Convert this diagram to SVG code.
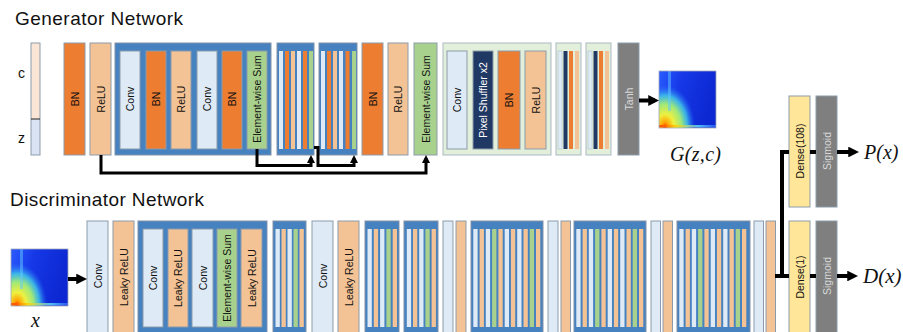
<svg xmlns="http://www.w3.org/2000/svg" xmlns:xlink="http://www.w3.org/1999/xlink" width="903" height="332" viewBox="0 0 903 332">
<style>
.bx{stroke:#8c9bab;stroke-width:1}
.conv{fill:#deebf7}
.bn{fill:#ed7d31}
.relu{fill:#f4c395}
.sum{fill:#a9d18e}
.blk{fill:#4681c0;stroke:#8193a8;stroke-width:1}
.ps{fill:#203864}
.psb{fill:#e2efda;stroke:#a9b8c4;stroke-width:1}
.gray{fill:#7f7f7f}
.dense{fill:#ffe699}
.t{font-family:"Liberation Sans",Arial,sans-serif;font-size:10.5px;fill:#111;text-anchor:middle;dominant-baseline:central}
.tl{fill:#d9d9d9}
.tw{fill:#fff}
.ti{font-family:"Liberation Serif","Times New Roman",serif;font-style:italic;fill:#111}
.title{font-family:"Liberation Sans",Arial,sans-serif;font-size:19px;fill:#111}
.lab{font-family:"Liberation Sans",Arial,sans-serif;font-size:14px;fill:#111;text-anchor:middle}
.cn{fill:none;stroke:#000;stroke-width:3}
.cn4{fill:none;stroke:#000;stroke-width:4}
</style>
<defs>
<marker id="ah" viewBox="0 0 10 10" refX="6" refY="5" markerWidth="2.7" markerHeight="2.7" orient="auto" markerUnits="strokeWidth"><path d="M0,0 L10,5 L0,10 z" fill="#000"/></marker>
<radialGradient id="heat" gradientUnits="userSpaceOnUse" cx="0" cy="0" r="1" gradientTransform="translate(6 56) scale(30 42)">
<stop offset="0" stop-color="#ff1a00"/>
<stop offset="0.1" stop-color="#ffa000"/>
<stop offset="0.3" stop-color="#eef040"/>
<stop offset="0.55" stop-color="#9ee87a"/>
<stop offset="0.75" stop-color="#40c8e8" stop-opacity="0.85"/>
<stop offset="1" stop-color="#2a70ff" stop-opacity="0"/>
</radialGradient>
<linearGradient id="bot" x1="0" x2="1" y1="0" y2="0">
<stop offset="0" stop-color="#ff3000"/>
<stop offset="0.3" stop-color="#ffd000"/>
<stop offset="0.7" stop-color="#60e0ff"/>
<stop offset="1" stop-color="#3060ff"/>
</linearGradient>
<linearGradient id="bg" x1="0" x2="1" y1="0" y2="0.3">
<stop offset="0" stop-color="#2a5cff"/>
<stop offset="0.4" stop-color="#1638e6"/>
<stop offset="1" stop-color="#0c28d2"/>
</linearGradient>
<g id="spec">
<rect x="0" y="0" width="57" height="57" fill="url(#bg)"/>
<rect x="0" y="0" width="57" height="57" fill="url(#heat)"/>
<rect x="9" y="0" width="3" height="40" fill="#60c8ff" opacity="0.5"/>
<rect x="0" y="54" width="57" height="2.5" fill="url(#bot)" opacity="0.8"/>
<rect x="0" y="0" width="57" height="57" fill="none" stroke="#a0a8b8" stroke-width="0.8"/>
</g>
</defs>
<rect width="903" height="332" fill="#fff"/>

<text class="title" x="15" y="25" textLength="168">Generator Network</text>
<text class="title" x="10" y="206" textLength="194">Discriminator Network</text>

<!-- Generator -->
<g id="g-input">
<rect x="31" y="43" width="9" height="76" fill="#fbe5d6"/>
<rect x="31" y="119" width="9" height="36" fill="#dae3f3"/>
<rect x="31" y="43" width="9" height="112" fill="none" class="bx"/>
<line x1="31" y1="119" x2="40" y2="119" stroke="#222" stroke-width="1"/>
<text class="lab" x="21.5" y="78">c</text>
<text class="lab" x="21.5" y="143">z</text>
</g>
<g id="g-bn1"><rect class="bx bn" x="64" y="43" width="21" height="112"/><text class="t" transform="translate(74.5 99) rotate(-90)">BN</text></g>
<g id="g-relu1"><rect class="bx relu" x="90" y="43" width="21" height="112"/><text class="t" transform="translate(100.5 99) rotate(-90)">ReLU</text></g>
<g id="g-res1">
<rect class="blk" x="115" y="43" width="156" height="112"/>
<rect class="bx conv" x="120" y="51" width="20" height="98"/><text class="t" transform="translate(130 99) rotate(-90)">Conv</text>
<rect class="bx bn" x="146" y="51" width="20" height="98"/><text class="t" transform="translate(156 99) rotate(-90)">BN</text>
<rect class="bx relu" x="171" y="51" width="20" height="98"/><text class="t" transform="translate(181 99) rotate(-90)">ReLU</text>
<rect class="bx conv" x="197" y="51" width="20" height="98"/><text class="t" transform="translate(207 99) rotate(-90)">Conv</text>
<rect class="bx bn" x="222" y="51" width="20" height="98"/><text class="t" transform="translate(232 99) rotate(-90)">BN</text>
<rect class="bx sum" x="247" y="51" width="20" height="98"/><text class="t" transform="translate(257 99) rotate(-90)">Element-wise Sum</text>
</g>
<g id="g-res2">
<rect class="blk" x="277" y="43" width="37" height="112"/>
<rect class="conv" x="279" y="51" width="4" height="98"/>
<rect class="bn" x="285" y="51" width="4" height="98"/>
<rect class="relu" x="291" y="51" width="4" height="98"/>
<rect class="conv" x="297" y="51" width="4" height="98"/>
<rect class="bn" x="303" y="51" width="4" height="98"/>
<rect class="sum" x="309" y="51" width="4" height="98"/>
</g>
<g id="g-res3">
<rect class="blk" x="319" y="43" width="38" height="112"/>
<rect class="conv" x="321" y="51" width="4" height="98"/>
<rect class="bn" x="327" y="51" width="4" height="98"/>
<rect class="relu" x="333" y="51" width="4" height="98"/>
<rect class="conv" x="339" y="51" width="4" height="98"/>
<rect class="bn" x="345.5" y="51" width="4" height="98"/>
<rect class="sum" x="352" y="51" width="4" height="98"/>
</g>
<g id="g-bn2"><rect class="bx bn" x="362" y="43" width="21" height="112"/><text class="t" transform="translate(372.5 99) rotate(-90)">BN</text></g>
<g id="g-relu2"><rect class="bx relu" x="388" y="43" width="20" height="112"/><text class="t" transform="translate(398 99) rotate(-90)">ReLU</text></g>
<g id="g-sum2"><rect class="bx sum" x="414" y="43" width="23" height="112"/><text class="t" transform="translate(425.5 99) rotate(-90)">Element-wise Sum</text></g>
<g id="g-up1">
<rect class="psb" x="443" y="43" width="108" height="112"/>
<rect class="bx conv" x="447" y="51" width="20" height="98"/><text class="t" transform="translate(457 100) rotate(-90)">Conv</text>
<rect class="bx ps" x="473" y="51" width="20" height="98"/><text class="t tw" transform="translate(483 100) rotate(-90)">Pixel Shuffler x2</text>
<rect class="bx bn" x="498" y="51" width="22" height="98"/><text class="t" transform="translate(509 100) rotate(-90)">BN</text>
<rect class="bx relu" x="525" y="51" width="21" height="98"/><text class="t" transform="translate(535.5 100) rotate(-90)">ReLU</text>
</g>
<g id="g-up2">
<rect class="psb" x="556" y="43" width="25" height="112"/>
<rect class="conv" x="558" y="51" width="4" height="98" stroke="#a9b8c4" stroke-width="0.5"/>
<rect class="ps" x="563.5" y="51" width="4" height="98"/>
<rect class="bn" x="569" y="51" width="4" height="98"/>
<rect class="relu" x="575" y="51" width="4" height="98"/>
</g>
<g id="g-up3">
<rect class="psb" x="586" y="43" width="25" height="112"/>
<rect class="conv" x="588" y="51" width="4" height="98" stroke="#a9b8c4" stroke-width="0.5"/>
<rect class="ps" x="593.5" y="51" width="4" height="98"/>
<rect class="bn" x="599" y="51" width="4" height="98"/>
<rect class="relu" x="605" y="51" width="4" height="98"/>
</g>
<g id="g-tanh"><rect class="bx gray" x="618" y="43" width="21" height="112"/><text class="t tl" transform="translate(628.5 99) rotate(-90)">Tanh</text></g>
<g id="g-out">
<use xlink:href="#spec" href="#spec" x="659" y="71"/>
<text class="ti" x="670" y="161" font-size="20" textLength="51">G(z,c)</text>
</g>

<!-- Discriminator -->
<g id="d-in">
<use xlink:href="#spec" href="#spec" x="11" y="249"/>
<text class="ti" x="35.5" y="327" font-size="20" text-anchor="middle">x</text>
</g>
<g id="d-conv1"><rect class="bx conv" x="87" y="221" width="21" height="112"/><text class="t" transform="translate(97.5 276) rotate(-90)">Conv</text></g>
<g id="d-lrelu1"><rect class="bx relu" x="113" y="221" width="21" height="112"/><text class="t" transform="translate(123.5 277) rotate(-90)">Leaky ReLU</text></g>
<g id="d-res1">
<rect class="blk" x="138" y="221" width="129" height="112"/>
<rect class="bx conv" x="143" y="229" width="20" height="98"/><text class="t" transform="translate(153 278) rotate(-90)">Conv</text>
<rect class="bx relu" x="168" y="229" width="20" height="98"/><text class="t" transform="translate(178 278) rotate(-90)">Leaky ReLU</text>
<rect class="bx conv" x="192" y="229" width="21" height="98"/><text class="t" transform="translate(202.5 278) rotate(-90)">Conv</text>
<rect class="bx sum" x="217" y="229" width="20" height="98"/><text class="t" transform="translate(227 278) rotate(-90)">Element-wise Sum</text>
<rect class="bx relu" x="241" y="229" width="21" height="98"/><text class="t" transform="translate(251.5 278) rotate(-90)">Leaky ReLU</text>
</g>
<g id="d-res2">
<rect class="blk" x="273" y="221" width="33" height="112"/>
<rect class="conv" x="275.5" y="229" width="4.3" height="98"/>
<rect class="relu" x="281.5" y="229" width="4.3" height="98"/>
<rect class="conv" x="287.5" y="229" width="4.3" height="98"/>
<rect class="sum" x="293.5" y="229" width="4.3" height="98"/>
<rect class="relu" x="299.5" y="229" width="4.3" height="98"/>
</g>
<g id="d-conv2"><rect class="bx conv" x="312" y="221" width="21" height="112"/><text class="t" transform="translate(322.5 276) rotate(-90)">Conv</text></g>
<g id="d-lrelu2"><rect class="bx relu" x="338" y="221" width="21" height="112"/><text class="t" transform="translate(348.5 277) rotate(-90)">Leaky ReLU</text></g>
<g id="d-res3">
<rect class="blk" x="365" y="221" width="34" height="112"/>
<rect class="conv" x="367.5" y="229" width="4.3" height="98"/>
<rect class="relu" x="373.8" y="229" width="4.3" height="98"/>
<rect class="conv" x="380.1" y="229" width="4.3" height="98"/>
<rect class="sum" x="386.4" y="229" width="4.3" height="98"/>
<rect class="relu" x="392.7" y="229" width="4.3" height="98"/>
</g>
<g id="d-res4">
<rect class="blk" x="404" y="221" width="34" height="112"/>
<rect class="conv" x="406.8" y="229" width="4.3" height="98"/>
<rect class="relu" x="413" y="229" width="4.3" height="98"/>
<rect class="conv" x="419.2" y="229" width="4.3" height="98"/>
<rect class="sum" x="425.4" y="229" width="4.3" height="98"/>
<rect class="relu" x="431.6" y="229" width="4.3" height="98"/>
</g>
<g id="d-conv3"><rect class="bx conv" x="443" y="221" width="10" height="112"/></g>
<g id="d-lrelu3"><rect class="bx relu" x="456" y="221" width="10" height="112"/></g>
<g id="d-res5">
<rect class="blk" x="471" y="221" width="72" height="112"/>
<rect class="conv" x="473.3" y="229" width="4.3" height="98"/>
<rect class="relu" x="479.6" y="229" width="4.3" height="98"/>
<rect class="conv" x="485.8" y="229" width="4.3" height="98"/>
<rect class="sum" x="492.1" y="229" width="4.3" height="98"/>
<rect class="relu" x="498.4" y="229" width="4.3" height="98"/>
<rect class="conv" x="504.7" y="229" width="4.3" height="98"/>
<rect class="relu" x="510.9" y="229" width="4.3" height="98"/>
<rect class="conv" x="517.2" y="229" width="4.3" height="98"/>
<rect class="relu" x="523.5" y="229" width="4.3" height="98"/>
<rect class="sum" x="529.7" y="229" width="4.3" height="98"/>
<rect class="relu" x="536" y="229" width="4.3" height="98"/>
</g>
<g id="d-conv4"><rect class="bx conv" x="548" y="221" width="10" height="112"/></g>
<g id="d-lrelu4"><rect class="bx relu" x="561" y="221" width="9.5" height="112"/></g>
<g id="d-res6">
<rect class="blk" x="574" y="221" width="72" height="112"/>
<rect class="conv" x="576.3" y="229" width="4.3" height="98"/>
<rect class="relu" x="582.6" y="229" width="4.3" height="98"/>
<rect class="conv" x="588.8" y="229" width="4.3" height="98"/>
<rect class="sum" x="595.1" y="229" width="4.3" height="98"/>
<rect class="relu" x="601.4" y="229" width="4.3" height="98"/>
<rect class="conv" x="607.7" y="229" width="4.3" height="98"/>
<rect class="relu" x="613.9" y="229" width="4.3" height="98"/>
<rect class="conv" x="620.2" y="229" width="4.3" height="98"/>
<rect class="relu" x="626.5" y="229" width="4.3" height="98"/>
<rect class="sum" x="632.7" y="229" width="4.3" height="98"/>
<rect class="relu" x="639" y="229" width="4.3" height="98"/>
</g>
<g id="d-conv5"><rect class="bx conv" x="651" y="221" width="9.5" height="112"/></g>
<g id="d-lrelu5"><rect class="bx relu" x="663" y="221" width="9.5" height="112"/></g>
<g id="d-res7">
<rect class="blk" x="677" y="221" width="73" height="112"/>
<rect class="conv" x="679.3" y="229" width="4.3" height="98"/>
<rect class="relu" x="685.6" y="229" width="4.3" height="98"/>
<rect class="conv" x="691.8" y="229" width="4.3" height="98"/>
<rect class="sum" x="698.1" y="229" width="4.3" height="98"/>
<rect class="relu" x="704.4" y="229" width="4.3" height="98"/>
<rect class="conv" x="710.7" y="229" width="4.3" height="98"/>
<rect class="relu" x="716.9" y="229" width="4.3" height="98"/>
<rect class="conv" x="723.2" y="229" width="4.3" height="98"/>
<rect class="relu" x="729.5" y="229" width="4.3" height="98"/>
<rect class="sum" x="735.7" y="229" width="4.3" height="98"/>
<rect class="relu" x="742" y="229" width="4.3" height="98"/>
</g>
<g id="d-conv6"><rect class="bx conv" x="754" y="221" width="9.5" height="112"/></g>
<g id="d-lrelu6"><rect class="bx relu" x="766" y="221" width="9.5" height="112"/></g>
<g id="d-dense108"><rect class="bx dense" x="789" y="96" width="21" height="111"/><text class="t" transform="translate(799.5 151) rotate(-90)">Dense(108)</text></g>
<g id="d-sig1"><rect class="bx gray" x="816" y="96" width="21" height="111"/><text class="t tl" transform="translate(826.5 151) rotate(-90)">Sigmoid</text></g>
<g id="d-dense1"><rect class="bx dense" x="789" y="221" width="21" height="112"/><text class="t" transform="translate(799.5 277) rotate(-90)">Dense(1)</text></g>
<g id="d-sig2"><rect class="bx gray" x="816" y="221" width="21" height="112"/><text class="t tl" transform="translate(826.5 276) rotate(-90)">Sigmoid</text></g>
<g id="d-labels">
<text class="ti" x="864" y="159" font-size="20">P(x)</text>
<text class="ti" x="863" y="283" font-size="21">D(x)</text>
</g>

<!-- Connectors -->
<g id="connectors">
<path class="cn" d="M101,155 V173 H426 V158.3" marker-end="url(#ah)"/>
<path class="cn" d="M257,149 V165.5 H311 V158.3" marker-end="url(#ah)"/>
<path class="cn" d="M314,147.5 H318 V165.5 H354 V158.3" marker-end="url(#ah)"/>
<path class="cn4" d="M639,100.5 H654.7" marker-end="url(#ah)"/>
<path class="cn4" d="M68,279 H82.7" marker-end="url(#ah)"/>
<path class="cn4" d="M775,276 H789"/>
<path class="cn4" d="M782,278 V152 H789"/>
<path class="cn4" d="M810,152 H816"/>
<path class="cn4" d="M810,276 H816"/>
<path class="cn4" d="M837,152 H854.7" marker-end="url(#ah)"/>
<path class="cn4" d="M837,276 H853.7" marker-end="url(#ah)"/>
</g>
</svg>
